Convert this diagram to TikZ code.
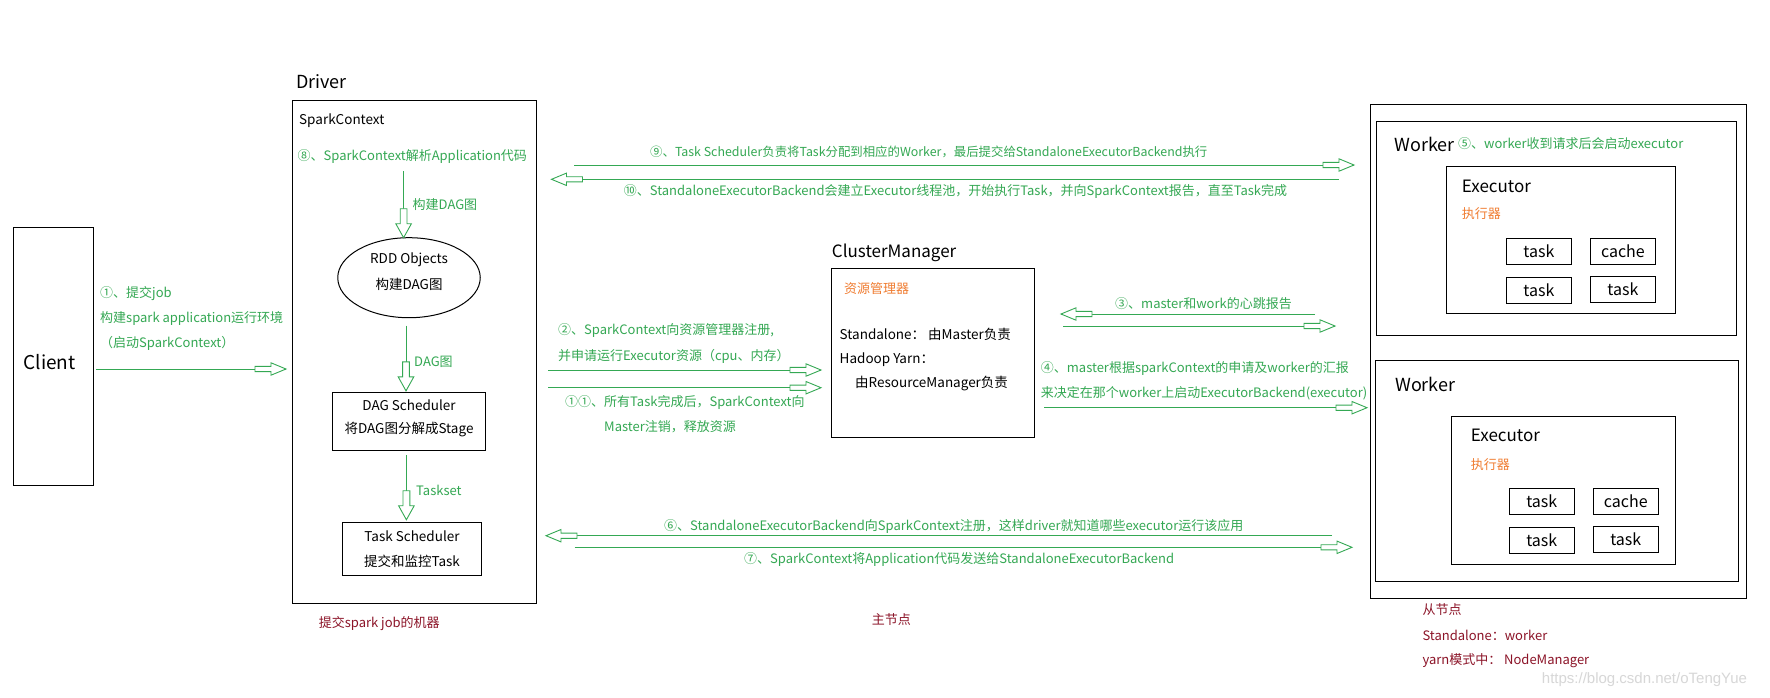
\documentclass[tikz,border=0pt]{standalone}
\usepackage{fontspec}
\setmainfont{Noto Sans CJK SC}
\newfontfamily\wmfont{Liberation Sans}
\usetikzlibrary{decorations.markings,shapes.geometric}
\definecolor{grn}{RGB}{52,168,83}
\definecolor{org}{RGB}{240,125,50}
\definecolor{drd}{RGB}{140,20,40}
\definecolor{wmc}{RGB}{215,215,215}
\newcommand\fsz[1]{\fontsize{#1}{#1}\selectfont}
\tikzset{
  box/.style={draw=black, line width=1pt, inner sep=0pt, outer sep=0pt},
  sbox/.style={box, minimum width=65.5pt, minimum height=26pt, font=\fsz{16}},
  lbl/.style={inner sep=0pt, anchor=west, text=grn, font=\fsz{13}},
  txt/.style={inner sep=0pt, anchor=west, text=black, font=\fsz{13.5}},
  ctxt/.style={inner sep=0pt, anchor=center, text=black, font=\fsz{13.5}},
  rlbl/.style={inner sep=0pt, anchor=west, text=drd, font=\fsz{13}},
  olbl/.style={inner sep=0pt, anchor=west, text=org, font=\fsz{13}},
  harrow/.style={draw=grn, line width=1pt, postaction={decorate},
    decoration={markings, mark=at position 1 with {
      \draw[grn, line width=0.9pt, fill=white, line join=miter]
        (-31,2.6) -- (-15,2.6) -- (-15,6.2) -- (0,0) -- (-15,-6.2) -- (-15,-2.6) -- (-31,-2.6) -- cycle;}}},
  varrow/.style={draw=grn, line width=1pt, postaction={decorate},
    decoration={markings, mark=at position 1 with {
      \draw[grn, line width=0.9pt, fill=white, line join=miter]
        (-29,3.4) -- (-14,3.4) -- (-14,7.8) -- (0,0) -- (-14,-7.8) -- (-14,-3.4) -- (-29,-3.4) -- cycle;}}},
}
\begin{document}
\begin{tikzpicture}[x=1pt,y=-1pt]
\useasboundingbox[fill=white] (0,0) rectangle (1770,697);

% ---------- Client ----------
\node[box, minimum width=80.6pt, minimum height=258.2pt] (client) at (53.3,356.4) {};
\node[inner sep=0pt, font=\fsz{19}] (clientlbl) at (49.5,361.7) {Client};

% ---------- Driver ----------
\node[txt, font=\fsz{18}] (drvlbl) at (296,81.7) {Driver};
\node[box, minimum width=244pt, minimum height=502.6pt] (driver) at (414,352) {};
\node[txt] (sclbl) at (299,121) {SparkContext};
\node[lbl] (l8) at (297.5,156.7) {⑧、SparkContext解析Application代码};
\node[box, ellipse, minimum width=142.5pt, minimum height=80pt] (rdd) at (409,277.7) {};
\node[ctxt] (rdd1) at (409,259.3) {RDD Objects};
\node[ctxt] (rdd2) at (409,284) {构建DAG图};
\node[lbl] (lbuild) at (412.5,205) {构建DAG图};
\node[box, minimum width=153.2pt, minimum height=57.7pt] (dagsched) at (409.1,421.2) {};
\node[ctxt] (ds1) at (409,405) {DAG Scheduler};
\node[ctxt] (ds2) at (409,430) {将DAG图分解成Stage};
\node[lbl] (ldag) at (414,361.7) {DAG图};
\node[box, minimum width=139.3pt, minimum height=52.3pt] (tasksched) at (412.2,548.9) {};
\node[ctxt] (ts1) at (412,536.7) {Task Scheduler};
\node[ctxt] (ts2) at (412,561.7) {提交和监控Task};
\node[lbl] (lts) at (416,490) {Taskset};
\node[rlbl] (lmach) at (318.6,624) {提交spark job的机器};

% client labels
\node[lbl] (l1a) at (100,293.3) {①、提交job};
\node[lbl] (l1b) at (100,318.3) {构建spark application运行环境};
\node[lbl] (l1c) at (100,343.3) {（启动SparkContext）};

% ---------- ClusterManager ----------
\node[txt, font=\fsz{17}] (cmlbl) at (831.7,253.3) {ClusterManager};
\node[box, minimum width=202.6pt, minimum height=169pt] (cm) at (933,352.8) {};
\node[olbl] (cmres) at (844,289) {资源管理器};
\node[txt] (cm1) at (839.5,334.5) {Standalone： 由Master负责};
\node[txt] (cm2) at (839.5,359.3) {Hadoop Yarn：};
\node[txt] (cm3) at (855,384) {由ResourceManager负责};
\node[rlbl] (lmain) at (871.7,620) {主节点};

% ---------- Workers ----------
\node[box, minimum width=376.7pt, minimum height=494pt] (slave) at (1558.4,351.3) {};
\node[box, minimum width=360pt, minimum height=213.3pt] (worker1) at (1556.7,228.4) {};
\node[txt, font=\fsz{18}] (w1lbl) at (1394.3,144) {Worker};
\node[lbl] (l5) at (1458,144) {⑤、worker收到请求后会启动executor};
\node[box, minimum width=228.3pt, minimum height=147.3pt] (exec1) at (1560.9,239.7) {};
\node[txt, font=\fsz{17}] (e1lbl) at (1461.7,186.7) {Executor};
\node[olbl] (e1sub) at (1461.7,213.3) {执行器};
\node[sbox] (t11) at (1538.9,251.3) {task};
\node[sbox] (c1) at (1622.9,251.3) {cache};
\node[sbox] (t12) at (1538.9,290.3) {task};
\node[sbox] (t13) at (1622.9,289.2) {task};

\node[box, minimum width=363.4pt, minimum height=220.3pt] (worker2) at (1557,470.9) {};
\node[txt, font=\fsz{18}] (w2lbl) at (1395,384) {Worker};
\node[box, minimum width=224pt, minimum height=147.6pt] (exec2) at (1563.3,490.5) {};
\node[txt, font=\fsz{17}] (e2lbl) at (1470.7,435.7) {Executor};
\node[olbl] (e2sub) at (1470.7,465) {执行器};
\node[sbox] (t21) at (1541.8,501.3) {task};
\node[sbox] (c2) at (1625.8,501.3) {cache};
\node[sbox] (t22) at (1541.8,540.3) {task};
\node[sbox] (t23) at (1625.8,539.5) {task};

\node[rlbl] (ls1) at (1422.3,610) {从节点};
\node[rlbl] (ls2) at (1422.3,635.3) {Standalone：worker};
\node[rlbl] (ls3) at (1422.3,660.7) {yarn模式中： NodeManager};
\node[inner sep=0pt, anchor=west, text=wmc, font=\wmfont\fsz{15}] (wm) at (1541.7,679.3) {https://blog.csdn.net/oTengYue};

% ---------- message labels ----------
\node[lbl, font=\fsz{12.4}] (l9) at (650,152.3) {⑨、Task Scheduler负责将Task分配到相应的Worker，最后提交给StandaloneExecutorBackend执行};
\node[lbl] (l10) at (623.7,191.7) {⑩、StandaloneExecutorBackend会建立Executor线程池，开始执行Task，并向SparkContext报告，直至Task完成};
\node[lbl] (l2a) at (558,330) {②、SparkContext向资源管理器注册,};
\node[lbl] (l2b) at (558,356) {并申请运行Executor资源（cpu、内存）};
\node[lbl] (l11a) at (565,402.7) {①①、所有Task完成后，SparkContext向};
\node[lbl] (l11b) at (604,427) {Master注销，释放资源};
\node[lbl] (l3) at (1115,304) {③、master和work的心跳报告};
\node[lbl] (l4a) at (1040.7,368.3) {④、master根据sparkContext的申请及worker的汇报};
\node[lbl] (l4b) at (1040.7,393.3) {来决定在那个worker上启动ExecutorBackend(executor)};
\node[lbl] (l6) at (664,526.7) {⑥、StandaloneExecutorBackend向SparkContext注册，这样driver就知道哪些executor运行该应用};
\node[lbl] (l7) at (744,559.3) {⑦、SparkContext将Application代码发送给StandaloneExecutorBackend};

% ---------- connector end points ----------
\coordinate (a1s) at (96,369);     \coordinate (a1e) at (286,369);
\coordinate (v1s) at (403.6,171);
\coordinate (v2s) at (406,325.7);
\coordinate (v3s) at (406.4,455);
\coordinate (a9s) at (574,165);    \coordinate (a9e) at (1354,165);
\coordinate (a10s) at (1338.6,179.3); \coordinate (a10e) at (551.5,179.3);
\coordinate (a2s) at (548,370);    \coordinate (a2e) at (821,370);
\coordinate (a11s) at (548,387.7); \coordinate (a11e) at (821,387.7);
\coordinate (a3s) at (1315,314);   \coordinate (a3e) at (1061,314);
\coordinate (a3bs) at (1063.3,326); \coordinate (a3be) at (1335,326);
\coordinate (a4s) at (1044,407.7); \coordinate (a4e) at (1367,407.7);
\coordinate (a6s) at (1332,535.7); \coordinate (a6e) at (546,535.7);
\coordinate (a7s) at (574.5,547.3); \coordinate (a7e) at (1352,547.3);

% ---------- connectors ----------
\draw[harrow] (a1s) -- (a1e);
\draw[varrow] (v1s) -- (v1s |- rdd.north);
\draw[varrow] (v2s) -- ([yshift=1.5pt]v2s |- dagsched.north);
\draw[varrow] (v3s) -- ([yshift=3pt]v3s |- tasksched.north);
\draw[harrow] (a9s) -- (a9e);
\draw[harrow] (a10s) -- (a10e);
\draw[harrow] (a2s) -- (a2e);
\draw[harrow] (a11s) -- (a11e);
\draw[harrow] (a3s) -- (a3e);
\draw[harrow] (a3bs) -- (a3be);
\draw[harrow] (a4s) -- (a4e);
\draw[harrow] (a6s) -- (a6e);
\draw[harrow] (a7s) -- (a7e);
\end{tikzpicture}
\end{document}
